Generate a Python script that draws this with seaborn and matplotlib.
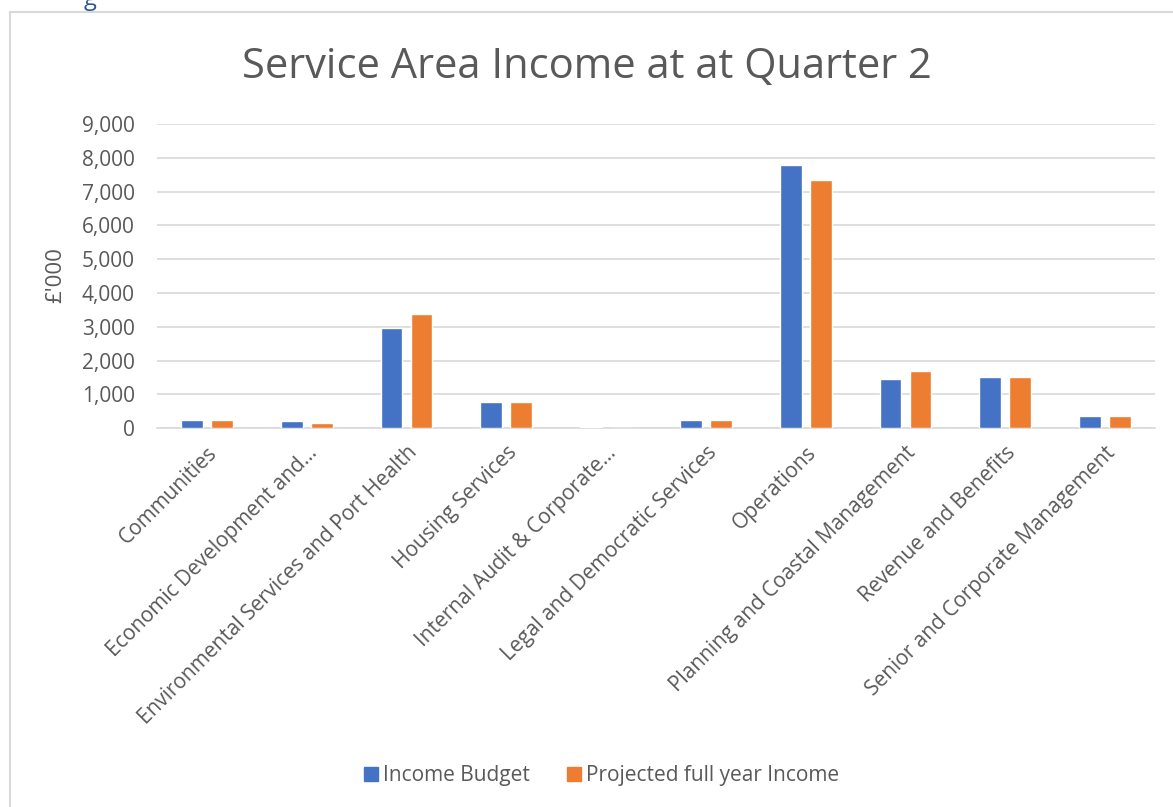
import matplotlib
matplotlib.use("Agg")
import matplotlib.pyplot as plt
import seaborn as sns
import pandas as pd
from matplotlib.lines import Line2D

categories = [
    "Communities",
    "Economic Development and...",
    "Environmental Services and Port Health",
    "Housing Services",
    "Internal Audit & Corporate...",
    "Legal and Democratic Services",
    "Operations",
    "Planning and Coastal Management",
    "Revenue and Benefits",
    "Senior and Corporate Management",
]
income_budget = [237, 205, 2960, 770, 30, 237, 7790, 1460, 1510, 360]
projected_income = [237, 165, 3370, 770, 20, 237, 7340, 1700, 1510, 360]
series_names = ["Income Budget", "Projected full year Income"]
y_ticks = [0, 1000, 2000, 3000, 4000, 5000, 6000, 7000, 8000, 9000]

title = "Service Area Income at at Quarter 2"
y_label = "£'000"

colors = ["#4472C4", "#ED7D31"]
text_color = "#595959"
grid_color = "#D9D9D9"

sns.set_theme(style="white")
plt.rcParams["font.family"] = ["Open Sans", "DejaVu Sans"]

df = pd.DataFrame({
    "Category": categories * 2,
    "Series": [series_names[0]] * len(categories) + [series_names[1]] * len(categories),
    "Value": income_budget + projected_income,
})

W, H = 1173, 807
fig = plt.figure(figsize=(W / 100, H / 100), dpi=100)
fig.patch.set_facecolor("white")
ax = fig.add_axes([157 / W, 1 - 428.3 / H, (1155 - 157) / W, (428.3 - 124) / H])

sns.barplot(data=df, x="Category", y="Value", hue="Series", order=categories,
            hue_order=series_names, palette=colors, width=0.6, gap=0.27,
            saturation=1, ax=ax, legend=False, zorder=3)

ax.set_ylim(0, 9000)
ax.set_xlim(-0.5, len(categories) - 0.5)
ax.set_yticks(y_ticks)
ax.set_yticklabels([f"{v:,}" for v in y_ticks], color=text_color, fontsize=15)
ax.yaxis.grid(True, color=grid_color, linewidth=1.2, zorder=0)
ax.set_axisbelow(True)
for s in ["top", "right", "left"]:
    ax.spines[s].set_visible(False)
ax.spines["bottom"].set_color(grid_color)
ax.spines["bottom"].set_linewidth(1.2)
ax.tick_params(axis="y", length=0, pad=16)
ax.tick_params(axis="x", length=0, pad=10)
ax.set_xlabel("")
ax.set_ylabel(y_label, color=text_color, fontsize=16, va="center")
ax.yaxis.set_label_coords((56 - 157) / 998, 0.502)
ax.set_xticks(range(len(categories)))
ax.set_xticklabels(categories, rotation=45, ha="right", rotation_mode="anchor",
                   color=text_color, fontsize=15)

fig.text(0.500, 1 - 78 / H, title, ha="center", va="baseline",
         fontsize=30, color=text_color)

# chart border (top and left edges visible)
fig.add_artist(Line2D([10 / W, 1.0], [1 - 12 / H, 1 - 12 / H], transform=fig.transFigure,
                      color=grid_color, linewidth=1.5))
fig.add_artist(Line2D([10 / W, 10 / W], [0, 1 - 12 / H], transform=fig.transFigure,
                      color=grid_color, linewidth=1.5))

# partial caption text cropped at top
fig.text(90 / W, 1 + 1 / H, "g", ha="center", va="center", fontsize=17, color="#2F5597")

handles = [Line2D([0], [0], marker="s", linestyle="", markersize=10,
                  markerfacecolor=c, markeredgecolor=c) for c in colors]
fig.legend(handles, series_names, loc="center", bbox_to_anchor=(600 / W, 1 - 776 / H),
           ncol=2, frameon=False, fontsize=15, labelcolor=text_color,
           handletextpad=0.1, columnspacing=1.6, handlelength=1.0)

fig.savefig("out.png", dpi=100)
